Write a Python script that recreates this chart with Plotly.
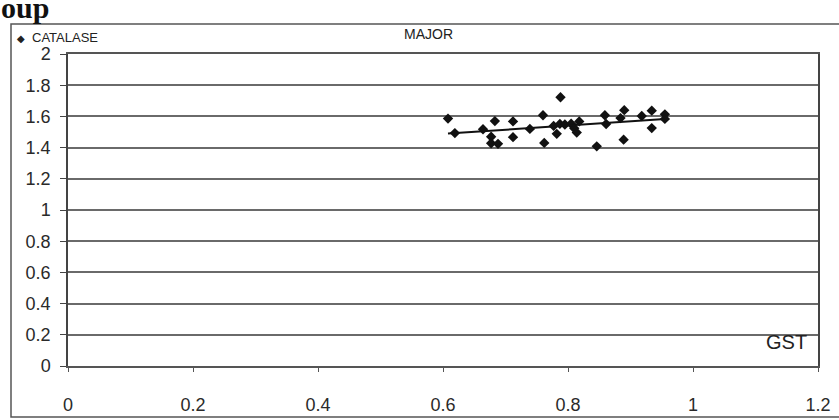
import numpy as np
import plotly.graph_objects as go

# GST (x) and CATALASE (y) values
gst = [0.608, 0.619, 0.664, 0.683, 0.677, 0.677, 0.688, 0.712, 0.712, 0.739,
       0.760, 0.762, 0.788, 0.777, 0.782, 0.787, 0.795, 0.805, 0.810, 0.814,
       0.818, 0.846, 0.859, 0.861, 0.884, 0.890, 0.889, 0.918, 0.934, 0.934,
       0.955, 0.955]
catalase = [1.586, 1.493, 1.518, 1.570, 1.470, 1.428, 1.424, 1.568, 1.467, 1.520,
            1.607, 1.430, 1.723, 1.539, 1.488, 1.552, 1.548, 1.553, 1.524, 1.496,
            1.568, 1.408, 1.607, 1.551, 1.589, 1.640, 1.451, 1.603, 1.637, 1.525,
            1.613, 1.584]

x_ticks = [0, 0.2, 0.4, 0.6, 0.8, 1, 1.2]
y_ticks = [0, 0.2, 0.4, 0.6, 0.8, 1, 1.2, 1.4, 1.6, 1.8, 2]

series_name = "CATALASE"
chart_title = "MAJOR"
x_title = "GST"
header_text = "oup"

# linear trend line fitted to the series
slope, intercept = np.polyfit(gst, catalase, 1)
tx = [min(gst), max(gst)]
ty = [slope * v + intercept for v in tx]

FONT = "Liberation Sans, Arial, sans-serif"

fig = go.Figure()
fig.add_trace(go.Scatter(
    x=gst, y=catalase, mode="markers", name=series_name,
    marker=dict(symbol="diamond", size=8, color="#111111"),
    showlegend=False,
))
fig.add_trace(go.Scatter(
    x=tx, y=ty, mode="lines", name="Linear (" + series_name + ")",
    line=dict(color="#111111", width=2), showlegend=False,
))

W, H = 839, 420
L, R, T, B = 68, 21, 54, 54
pw, ph = W - L - R, H - T - B


def px(x):
    return (x - L) / pw


def py(y):
    return (H - B - y) / ph


def label(text, x, y, size, family=FONT, xanchor="center"):
    return dict(text=text, xref="paper", yref="paper", x=px(x), y=py(y),
                xanchor=xanchor, yanchor="middle", showarrow=False,
                font=dict(size=size, family=family, color="#222222"))


fig.update_layout(
    width=W, height=H,
    margin=dict(l=L, r=R, t=T, b=B, autoexpand=False),
    paper_bgcolor="white", plot_bgcolor="white",
    font=dict(family=FONT, color="#2a2a2a"),
    xaxis=dict(
        range=[0, 1.2], tickvals=x_ticks, ticktext=[f"{v:g}" for v in x_ticks],
        showgrid=False, zeroline=False, automargin=False,
        showline=True, linecolor="#555555", linewidth=1.5, mirror=True,
        ticks="outside", ticklen=4, tickcolor="#555555",
        ticklabelstandoff=18,
        tickfont=dict(size=18, family=FONT, color="#2a2a2a"),
    ),
    yaxis=dict(
        range=[0, 2], tickvals=y_ticks, ticktext=[f"{v:g}" for v in y_ticks],
        showgrid=True, gridcolor="#6a6a6a", gridwidth=1.6, zeroline=False,
        automargin=False,
        showline=True, linecolor="#444444", linewidth=1.5, mirror=True,
        ticks="outside", ticklen=6, tickcolor="#444444",
        ticklabelstandoff=6,
        tickfont=dict(size=18, family=FONT, color="#2a2a2a"),
    ),
    shapes=[
        dict(type="rect", xref="paper", yref="paper",
             x0=px(11), x1=px(848), y0=py(417), y1=py(24),
             line=dict(color="#555555", width=1.5)),
    ],
    annotations=[
        label(chart_title, 428, 34, 14),
        label("\u25c6", 21, 39, 10, family="DejaVu Sans"),
        label(series_name, 30, 38, 13, xanchor="left"),
        label(x_title, 786, 342, 20),
        dict(text="<b>" + header_text + "</b>", xref="paper", yref="paper",
             x=px(-1), y=py(7), xanchor="left", yanchor="middle", showarrow=False,
             font=dict(size=30, family="Liberation Serif, serif", color="#111111")),
    ],
)

fig.write_html("out.html")
